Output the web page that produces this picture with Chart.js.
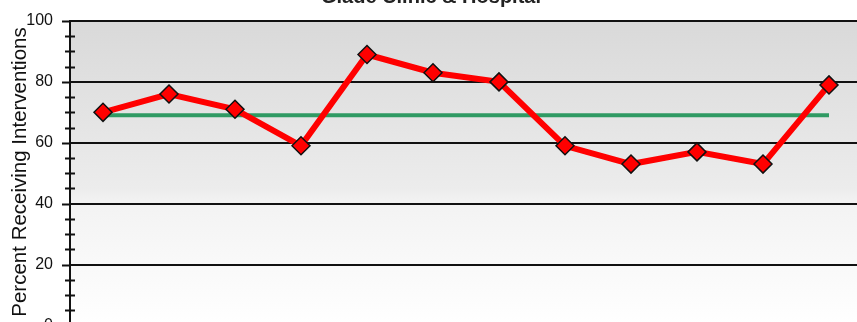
<!DOCTYPE html>
<html>
<head>
<meta charset="utf-8">
<script src="https://cdn.jsdelivr.net/npm/chart.js@4.4.1/dist/chart.umd.min.js"></script>
<style>
  html, body { margin: 0; padding: 0; background: #fff; overflow: hidden; }
  #wrap { position: absolute; left: 0; top: -19px; width: 880px; height: 371px; }
</style>
</head>
<body>
<div id="wrap"><canvas id="grafica" width="880" height="371"></canvas></div>
<script>
// values per period, in percent
const periodos = ['1', '2', '3', '4', '5', '6', '7', '8', '9', '10', '11', '12'];
const porcentajes = [70, 76, 71, 59, 89, 83, 80, 59, 53, 57, 53, 79];
const promedio = [69, 69, 69, 69, 69, 69, 69, 69, 69, 69, 69, 69];
const marcasY = [0, 20, 40, 60, 80, 100];

const titulo = 'Glade Clinic & Hospital';
const tituloEje = 'Percent Receiving Interventions';

// gray to white gradient behind the plot
const fondoDegradado = {
    id: 'fondoDegradado',
    beforeDraw(chart) {
        const { ctx, chartArea: a } = chart;
        const g = ctx.createLinearGradient(0, a.top, 0, a.bottom);
        g.addColorStop(0, '#d9d9d9');
        g.addColorStop(0.55, '#ececec');
        g.addColorStop(0.6, '#f3f3f3');
        g.addColorStop(1, '#ffffff');
        ctx.save();
        ctx.fillStyle = g;
        ctx.fillRect(a.left, a.top, a.right - a.left, a.bottom - a.top);
        ctx.restore();
    }
};

// major ticks outside the axis, minor ticks crossing it
const marcasEje = {
    id: 'marcasEje',
    afterDraw(chart) {
        const { ctx } = chart;
        const y = chart.scales.y;
        const x0 = chart.chartArea.left;
        ctx.save();
        ctx.strokeStyle = '#111';
        ctx.lineWidth = 2;
        for (let v = 0; v <= 100; v += 5) {
            const py = Math.round(y.getPixelForValue(v)) + 0.5;
            ctx.beginPath();
            if (marcasY.includes(v)) {
                ctx.moveTo(x0 - 8, py);
                ctx.lineTo(x0, py);
            } else {
                ctx.moveTo(x0 - 5, py);
                ctx.lineTo(x0 + 5, py);
            }
            ctx.stroke();
        }
        // rotated axis title
        ctx.translate(20, 191);
        ctx.rotate(-Math.PI / 2);
        ctx.fillStyle = '#111';
        ctx.font = '20.5px "Liberation Sans", Arial, sans-serif';
        ctx.textAlign = 'center';
        ctx.textBaseline = 'middle';
        ctx.fillText(tituloEje, 0, 0);
        ctx.restore();
    }
};

new Chart(document.getElementById('grafica'), {
    type: 'line',
    data: {
        labels: periodos,
        datasets: [
            {
                data: porcentajes,
                borderColor: '#ff0000',
                borderWidth: 6,
                pointStyle: 'rectRot',
                pointRadius: 9,
                pointBackgroundColor: '#ff0000',
                pointBorderColor: '#111',
                pointBorderWidth: 1.5,
                tension: 0
            },
            {
                data: promedio,
                borderColor: '#2f9a63',
                borderWidth: 4,
                pointRadius: 0,
                tension: 0
            }
        ]
    },
    options: {
        responsive: false,
        animation: false,
        devicePixelRatio: 1,
        layout: { padding: { left: 0, right: 18, top: 0, bottom: 0 } },
        plugins: {
            legend: { display: false },
            tooltip: { enabled: false },
            title: {
                display: true,
                text: titulo,
                color: '#222',
                font: { family: '"Liberation Sans", Arial, sans-serif', size: 20, weight: 'bold' },
                padding: { top: 4, bottom: 12 }
            }
        },
        scales: {
            x: {
                type: 'category',
                offset: true,
                grid: { display: false, drawTicks: false },
                border: { display: false },
                ticks: { display: false }
            },
            y: {
                min: 0,
                max: 100,
                afterFit(scale) { scale.width = 70; },
                border: { display: true, color: '#111', width: 2 },
                grid: {
                    drawTicks: false,
                    lineWidth: 2,
                    color: (c) => marcasY.includes(c.tick.value) ? '#111' : 'rgba(0,0,0,0)'
                },
                ticks: {
                    stepSize: 5,
                    autoSkip: false,
                    padding: 17,
                    color: '#111',
                    font: { family: '"Liberation Sans", Arial, sans-serif', size: 16 },
                    callback: (v) => marcasY.includes(v) ? String(v) : ''
                }
            }
        }
    },
    plugins: [fondoDegradado, marcasEje]
});
</script>
</body>
</html>
